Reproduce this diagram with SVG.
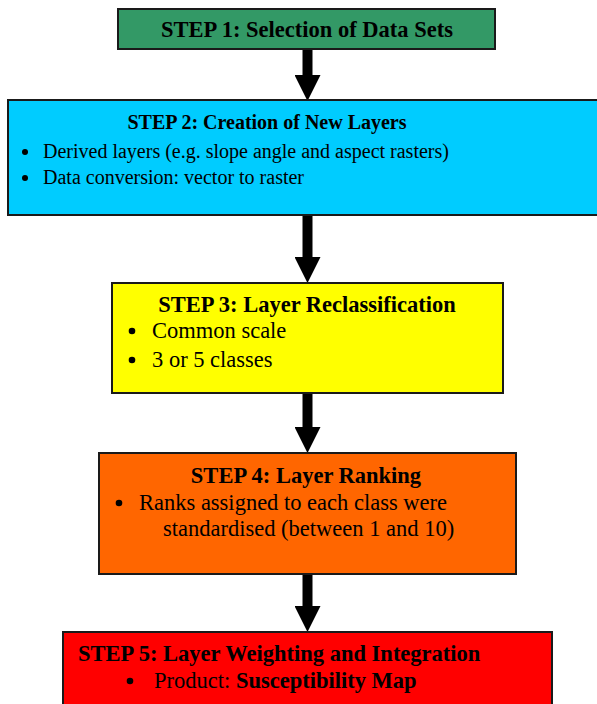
<svg xmlns="http://www.w3.org/2000/svg" width="597" height="704" viewBox="0 0 597 704">
  <style>
    .box { stroke: #1a1a1a; stroke-width: 2; }
    .t { font-family: "Liberation Serif", "Times New Roman", serif; fill: #000; }
    .title { font-weight: bold; font-size: 22.5px; }
    .body { font-size: 22.5px; }
    .small { font-size: 20px; }
    .conn { stroke: #000; stroke-width: 10; fill: none; }
  </style>
  <defs>
    <marker id="head" markerUnits="userSpaceOnUse" markerWidth="26" markerHeight="26" refX="0" refY="13" orient="auto">
      <path d="M0,0 L26,13 L0,26 Z" fill="#000"/>
    </marker>
  </defs>
  <rect width="597" height="704" fill="#fff"/>

  <g id="connectors">
    <line class="conn" x1="307.5" y1="50" x2="307.5" y2="75" marker-end="url(#head)"/>
    <line class="conn" x1="307.5" y1="215" x2="307.5" y2="257" marker-end="url(#head)"/>
    <line class="conn" x1="307.5" y1="393" x2="307.5" y2="427" marker-end="url(#head)"/>
    <line class="conn" x1="307.5" y1="574" x2="307.5" y2="606" marker-end="url(#head)"/>
  </g>

  <g id="step1">
    <rect class="box" x="118" y="9" width="377" height="40" fill="#339966"/>
    <text class="t title" x="307" y="37" text-anchor="middle">STEP 1: Selection of Data Sets</text>
  </g>

  <g id="step2">
    <rect class="box" x="8" y="100" width="600" height="115" fill="#00CCFF"/>
    <text class="t title small" x="267" y="129" text-anchor="middle" style="font-size:20px">STEP 2: Creation of New Layers</text>
    <circle cx="25" cy="152" r="3" fill="#000"/>
    <text class="t small" x="43" y="158">Derived layers (e.g. slope angle and aspect rasters)</text>
    <circle cx="25" cy="178" r="3" fill="#000"/>
    <text class="t small" x="43" y="184">Data conversion: vector to raster</text>
  </g>

  <g id="step3">
    <rect class="box" x="112" y="283" width="391" height="110" fill="#FFFF00"/>
    <text class="t title" x="307" y="312" text-anchor="middle">STEP 3: Layer Reclassification</text>
    <circle cx="132" cy="331" r="3.3" fill="#000"/>
    <text class="t body" x="152" y="338">Common scale</text>
    <circle cx="132" cy="360" r="3.3" fill="#000"/>
    <text class="t body" x="152" y="367">3 or 5 classes</text>
  </g>

  <g id="step4">
    <rect class="box" x="99" y="453" width="417" height="121" fill="#FF6600"/>
    <text class="t title" x="306" y="483" text-anchor="middle">STEP 4: Layer Ranking</text>
    <circle cx="119" cy="503" r="3.3" fill="#000"/>
    <text class="t body" x="139" y="510">Ranks assigned to each class were</text>
    <text class="t body" x="163" y="536">standardised (between 1 and 10)</text>
  </g>

  <g id="step5">
    <rect class="box" x="63" y="632" width="489" height="90" fill="#FF0000"/>
    <text class="t title" x="78" y="661">STEP 5: Layer Weighting and Integration</text>
    <circle cx="130" cy="681" r="3.3" fill="#000"/>
    <text class="t body" x="154" y="688">Product: <tspan font-weight="bold">Susceptibility Map</tspan></text>
  </g>
</svg>
